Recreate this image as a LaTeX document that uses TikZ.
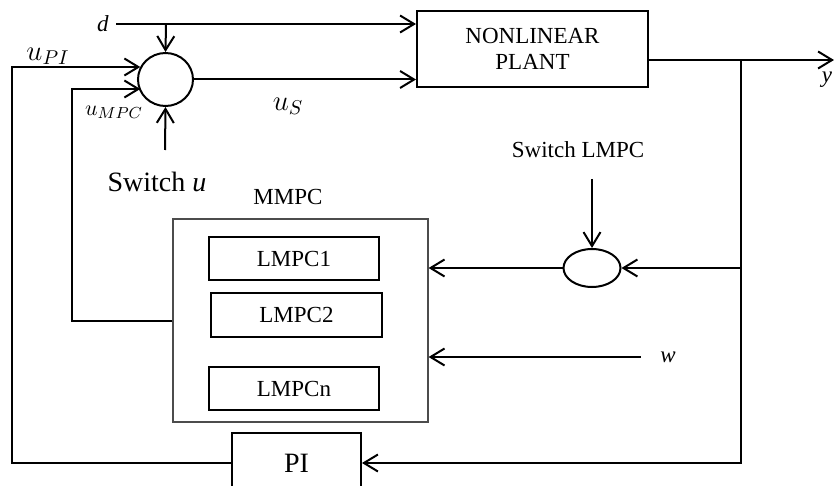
\documentclass[tikz,border=0pt]{standalone}
\usepackage{amsmath, amssymb}
\usepackage{fontspec}
\setmainfont{Liberation Serif}
\usetikzlibrary{arrows.meta, shapes.geometric}

\begin{document}
\begin{tikzpicture}[
		x = 0.5pt, y = -0.5pt,  % one unit per pixel, y downwards
		line width = 1pt,
		every node/.style = {font = \fontsize{11.5}{13}\selectfont},
		block/.style = {draw, rectangle, inner sep = 0pt},
		junction/.style = {draw, ellipse, inner sep = 0pt},
		sig/.style = {-{Straight Barb[length = 7pt, width = 8.5pt]}}
		]
		\useasboundingbox (0,0) rectangle (834,486);
		
		% Blocks
		\node [block, minimum width = 115.5pt, minimum height = 38pt, align = center] (plant) at (532.5,49) {NONLINEAR\\PLANT};
		\node [junction, minimum width = 27.5pt, minimum height = 26.5pt] (sum) at (165.5,79.5) {};
		\node [junction, minimum width = 28.5pt, minimum height = 19pt] (swl) at (592,268) {};
		\node [block, draw = black!70, line width = .6pt, minimum width = 127.5pt, minimum height = 101.5pt] (mmpc) at (300.5,320.5) {};
		\node [block, minimum width = 85pt, minimum height = 21.5pt] (lmpc1) at (294,258.5) {LMPC1};
		\node [block, minimum width = 85.5pt, minimum height = 22pt] (lmpc2) at (296.5,315) {LMPC2};
		\node [block, minimum width = 85pt, minimum height = 21.5pt] (lmpcn) at (294,388.5) {LMPCn};
		\node [block, minimum width = 64.5pt, minimum height = 30pt, font = \fontsize{14}{16}\selectfont] (pi) at (296.5,463) {PI};
		
		% Labels
		\node (d) at (103,24) {\textit{d}};
		\node (upilabel) at (48,56) {\Large $u_{PI}$};
		\node [font = \fontsize{11}{12}\selectfont] (umpclabel) at (114,112) {$u_{MPC}$};
		\node (uslabel) at (288,106) {\Large $u_S$};
		\node [font = \fontsize{14}{16}\selectfont] (swu) at (157,182) {Switch \textit{u}};
		\node (mmpclabel) at (288,197) {MMPC};
		\node (swllabel) at (578,150) {Switch LMPC};
		\node (w) at (668,357) {\textit{w}};
		\node (y) at (827,80) {\textit{y}};
		
		\coordinate (dj) at (166,24);
		\coordinate (upi) at (12,67);
		\coordinate (umpc) at (72,89);
		\coordinate (swin) at (165,150);
		\coordinate (swlin) at (592,179);
		\coordinate (br) at (741,60);
		\coordinate (yout) at (834,60);
		
		% Signals
		\draw [sig] (d.east) -- (d.east -| plant.west);
		\draw [sig] (dj) -- (sum.north);
		\draw [sig] (sum.east) -- (sum.east -| plant.west);
		\draw [sig] (pi.west) -| (upi) -- (upi -| sum.153);
		\draw [sig] (mmpc.west) -| (umpc) -- (umpc -| sum.207);
		\draw [sig] (swin) -- (sum.south);
		\draw [sig] (plant.east |- br) -- (yout);
		\draw [sig] (br) |- (pi.east);
		\draw [sig] (br |- swl.east) -- (swl.east);
		\draw [sig] (swlin) -- (swl.north);
		\draw [sig] (swl.west) -- (swl.west -| mmpc.east);
		\draw [sig, shorten <= 6pt] (w.west) -- (w.west -| mmpc.east);
	\end{tikzpicture}
\end{document}
